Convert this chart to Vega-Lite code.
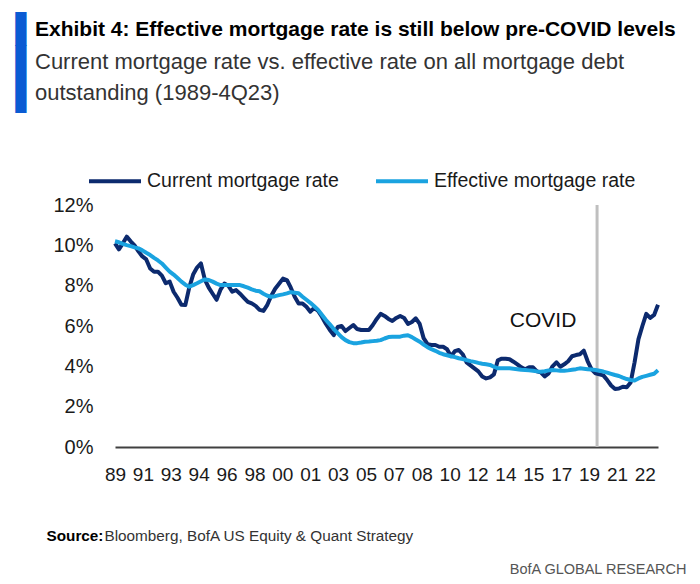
{
  "$schema": "https://vega.github.io/schema/vega-lite/v6.json",
  "width": 543,
  "height": 242,
  "autosize": {"type": "none"},
  "padding": {"left": 115, "top": 205, "right": 42, "bottom": 137},
  "background": "white",
  "title": {
    "text": "Exhibit 4: Effective mortgage rate is still below pre-COVID levels",
    "subtitle": ["Current mortgage rate vs. effective rate on all mortgage debt", "outstanding (1989-4Q23)"],
    "anchor": "start",
    "frame": "group",
    "orient": "top",
    "dx": -80,
    "dy": 88.5,
    "offset": 0,
    "font": "Liberation Sans",
    "fontSize": 21,
    "fontWeight": "bold",
    "color": "#000000",
    "subtitleFont": "Liberation Sans",
    "subtitleFontSize": 22,
    "subtitleColor": "#333333",
    "subtitleLineHeight": 31,
    "subtitlePadding": 12
  },
  "config": {
    "view": {"stroke": null},
    "axis": {"grid": false, "ticks": false, "tickSize": 0}
  },
  "datasets": {
    "rates": [
      {"t":1989.00,"Current":10.1,"Effective":10.2},
      {"t":1989.25,"Current":9.8,"Effective":10.15},
      {"t":1989.50,"Current":10.1,"Effective":10.07},
      {"t":1989.75,"Current":10.43,"Effective":10.01},
      {"t":1990.00,"Current":10.2,"Effective":9.96},
      {"t":1990.25,"Current":10.0,"Effective":9.9},
      {"t":1990.50,"Current":9.7,"Effective":9.85},
      {"t":1990.75,"Current":9.45,"Effective":9.75},
      {"t":1991.00,"Current":9.3,"Effective":9.63},
      {"t":1991.25,"Current":8.85,"Effective":9.52},
      {"t":1991.50,"Current":8.69,"Effective":9.38},
      {"t":1991.75,"Current":8.69,"Effective":9.25},
      {"t":1992.00,"Current":8.5,"Effective":9.1},
      {"t":1992.25,"Current":8.12,"Effective":8.9},
      {"t":1992.50,"Current":8.2,"Effective":8.7},
      {"t":1992.75,"Current":7.7,"Effective":8.55},
      {"t":1993.00,"Current":7.4,"Effective":8.38},
      {"t":1993.25,"Current":7.05,"Effective":8.2},
      {"t":1993.50,"Current":7.04,"Effective":8.05},
      {"t":1993.75,"Current":7.9,"Effective":7.95},
      {"t":1994.00,"Current":8.55,"Effective":8.03},
      {"t":1994.25,"Current":8.9,"Effective":8.12},
      {"t":1994.50,"Current":9.1,"Effective":8.22},
      {"t":1994.75,"Current":8.3,"Effective":8.31},
      {"t":1995.00,"Current":7.9,"Effective":8.28},
      {"t":1995.25,"Current":7.6,"Effective":8.2},
      {"t":1995.50,"Current":7.3,"Effective":8.1},
      {"t":1995.75,"Current":7.8,"Effective":8.03},
      {"t":1996.00,"Current":8.1,"Effective":8.03},
      {"t":1996.25,"Current":8.0,"Effective":8.03},
      {"t":1996.50,"Current":7.7,"Effective":8.03},
      {"t":1996.75,"Current":7.78,"Effective":8.03},
      {"t":1997.00,"Current":7.6,"Effective":8.03},
      {"t":1997.25,"Current":7.4,"Effective":7.97},
      {"t":1997.50,"Current":7.2,"Effective":7.9},
      {"t":1997.75,"Current":7.12,"Effective":7.82},
      {"t":1998.00,"Current":7.0,"Effective":7.75},
      {"t":1998.25,"Current":6.8,"Effective":7.72},
      {"t":1998.50,"Current":6.75,"Effective":7.6},
      {"t":1998.75,"Current":7.05,"Effective":7.5},
      {"t":1999.00,"Current":7.5,"Effective":7.45},
      {"t":1999.25,"Current":7.85,"Effective":7.48},
      {"t":1999.50,"Current":8.1,"Effective":7.53},
      {"t":1999.75,"Current":8.35,"Effective":7.57},
      {"t":2000.00,"Current":8.28,"Effective":7.62},
      {"t":2000.25,"Current":7.9,"Effective":7.68},
      {"t":2000.50,"Current":7.45,"Effective":7.65},
      {"t":2000.75,"Current":7.12,"Effective":7.62},
      {"t":2001.00,"Current":7.12,"Effective":7.45},
      {"t":2001.25,"Current":6.95,"Effective":7.3},
      {"t":2001.50,"Current":6.71,"Effective":7.15},
      {"t":2001.75,"Current":6.9,"Effective":6.98},
      {"t":2002.00,"Current":6.75,"Effective":6.8},
      {"t":2002.25,"Current":6.45,"Effective":6.55},
      {"t":2002.50,"Current":6.1,"Effective":6.3},
      {"t":2002.75,"Current":5.8,"Effective":6.08},
      {"t":2003.00,"Current":5.55,"Effective":5.85},
      {"t":2003.25,"Current":5.95,"Effective":5.65},
      {"t":2003.50,"Current":6.0,"Effective":5.45},
      {"t":2003.75,"Current":5.75,"Effective":5.3},
      {"t":2004.00,"Current":5.9,"Effective":5.2},
      {"t":2004.25,"Current":6.05,"Effective":5.15},
      {"t":2004.50,"Current":5.85,"Effective":5.15},
      {"t":2004.75,"Current":5.8,"Effective":5.18},
      {"t":2005.00,"Current":5.8,"Effective":5.22},
      {"t":2005.25,"Current":5.8,"Effective":5.23},
      {"t":2005.50,"Current":6.05,"Effective":5.25},
      {"t":2005.75,"Current":6.35,"Effective":5.27},
      {"t":2006.00,"Current":6.6,"Effective":5.3},
      {"t":2006.25,"Current":6.5,"Effective":5.38},
      {"t":2006.50,"Current":6.35,"Effective":5.45},
      {"t":2006.75,"Current":6.25,"Effective":5.47},
      {"t":2007.00,"Current":6.4,"Effective":5.47},
      {"t":2007.25,"Current":6.5,"Effective":5.47},
      {"t":2007.50,"Current":6.4,"Effective":5.52},
      {"t":2007.75,"Current":6.1,"Effective":5.54},
      {"t":2008.00,"Current":6.2,"Effective":5.45},
      {"t":2008.25,"Current":6.38,"Effective":5.33},
      {"t":2008.50,"Current":6.1,"Effective":5.22},
      {"t":2008.75,"Current":5.4,"Effective":5.08},
      {"t":2009.00,"Current":5.1,"Effective":4.95},
      {"t":2009.25,"Current":5.06,"Effective":4.85},
      {"t":2009.50,"Current":5.06,"Effective":4.77},
      {"t":2009.75,"Current":4.97,"Effective":4.67},
      {"t":2010.00,"Current":4.97,"Effective":4.6},
      {"t":2010.25,"Current":4.85,"Effective":4.55},
      {"t":2010.50,"Current":4.5,"Effective":4.5},
      {"t":2010.75,"Current":4.75,"Effective":4.46},
      {"t":2011.00,"Current":4.81,"Effective":4.4},
      {"t":2011.25,"Current":4.6,"Effective":4.36},
      {"t":2011.50,"Current":4.2,"Effective":4.31},
      {"t":2011.75,"Current":4.05,"Effective":4.26},
      {"t":2012.00,"Current":3.9,"Effective":4.22},
      {"t":2012.25,"Current":3.75,"Effective":4.17},
      {"t":2012.50,"Current":3.5,"Effective":4.13},
      {"t":2012.75,"Current":3.4,"Effective":4.1},
      {"t":2013.00,"Current":3.45,"Effective":4.07},
      {"t":2013.25,"Current":3.6,"Effective":3.98},
      {"t":2013.50,"Current":4.3,"Effective":3.9},
      {"t":2013.75,"Current":4.38,"Effective":3.9},
      {"t":2014.00,"Current":4.38,"Effective":3.9},
      {"t":2014.25,"Current":4.35,"Effective":3.9},
      {"t":2014.50,"Current":4.23,"Effective":3.88},
      {"t":2014.75,"Current":4.1,"Effective":3.86},
      {"t":2015.00,"Current":3.95,"Effective":3.83},
      {"t":2015.25,"Current":3.85,"Effective":3.82},
      {"t":2015.50,"Current":3.95,"Effective":3.8},
      {"t":2015.75,"Current":3.95,"Effective":3.78},
      {"t":2016.00,"Current":3.75,"Effective":3.75},
      {"t":2016.25,"Current":3.7,"Effective":3.73},
      {"t":2016.50,"Current":3.5,"Effective":3.76},
      {"t":2016.75,"Current":3.65,"Effective":3.8},
      {"t":2017.00,"Current":4.0,"Effective":3.82},
      {"t":2017.25,"Current":4.2,"Effective":3.8},
      {"t":2017.50,"Current":3.98,"Effective":3.78},
      {"t":2017.75,"Current":4.1,"Effective":3.78},
      {"t":2018.00,"Current":4.25,"Effective":3.8},
      {"t":2018.25,"Current":4.5,"Effective":3.83},
      {"t":2018.50,"Current":4.56,"Effective":3.86},
      {"t":2018.75,"Current":4.6,"Effective":3.9},
      {"t":2019.00,"Current":4.78,"Effective":3.88},
      {"t":2019.25,"Current":4.25,"Effective":3.86},
      {"t":2019.50,"Current":3.85,"Effective":3.84},
      {"t":2019.75,"Current":3.65,"Effective":3.82},
      {"t":2020.00,"Current":3.6,"Effective":3.78},
      {"t":2020.25,"Current":3.55,"Effective":3.74},
      {"t":2020.50,"Current":3.32,"Effective":3.69},
      {"t":2020.75,"Current":3.05,"Effective":3.63},
      {"t":2021.00,"Current":2.88,"Effective":3.57},
      {"t":2021.25,"Current":2.9,"Effective":3.52},
      {"t":2021.50,"Current":2.99,"Effective":3.44},
      {"t":2021.75,"Current":2.96,"Effective":3.37},
      {"t":2022.00,"Current":3.2,"Effective":3.32},
      {"t":2022.25,"Current":4.2,"Effective":3.3},
      {"t":2022.50,"Current":5.35,"Effective":3.4},
      {"t":2022.75,"Current":6.0,"Effective":3.48},
      {"t":2023.00,"Current":6.6,"Effective":3.53},
      {"t":2023.25,"Current":6.4,"Effective":3.58},
      {"t":2023.50,"Current":6.55,"Effective":3.63},
      {"t":2023.75,"Current":7.05,"Effective":3.8}
    ],
    "events": [
      {"t": 2019.85, "event": "COVID"}
    ]
  },
  "layer": [
    {
      "data": {"name": "events"},
      "mark": {"type": "rule", "color": "#bfbfbf", "strokeWidth": 3},
      "encoding": {
        "x": {"field": "t", "type": "quantitative", "scale": {"domain": [1989, 2023.75], "nice": false, "zero": false}, "axis": null}
      }
    },
    {
      "data": {"name": "events"},
      "mark": {"type": "text", "dx": -54, "align": "center", "baseline": "middle", "font": "Liberation Sans", "fontSize": 21, "color": "#111111"},
      "encoding": {
        "x": {"field": "t", "type": "quantitative", "scale": {"domain": [1989, 2023.75], "nice": false, "zero": false}, "axis": null},
        "y": {"datum": 6.25, "type": "quantitative", "scale": {"domain": [0, 12], "nice": false}, "axis": null},
        "text": {"field": "event"}
      }
    },
    {
      "data": {"name": "rates"},
      "transform": [{"fold": ["Current", "Effective"], "as": ["series", "rate"]}],
      "mark": {"type": "line", "strokeWidth": 4, "strokeJoin": "round"},
      "encoding": {
        "x": {
          "field": "t", "type": "quantitative",
          "scale": {"domain": [1989, 2023.75], "nice": false, "zero": false},
          "axis": {
            "orient": "bottom",
            "values": [1989, 1990.7847, 1992.5694, 1994.3541, 1996.1388, 1997.9235, 1999.7082, 2001.4929, 2003.2776, 2005.0623, 2006.847, 2008.6317, 2010.4164, 2012.2011, 2013.9858, 2015.7705, 2017.5552, 2019.3399, 2021.1246, 2022.9093],
            "labelExpr": "['89','91','93','94','96','98','00','01','03','05','07','08','10','12','14','15','17','19','21','22'][round((datum.value-1989)/1.7847)]",
            "labelFlush": false,
            "labelOverlap": false,
            "labelFont": "Liberation Sans",
            "labelFontSize": 19,
            "labelColor": "#1a1a1a",
            "labelPadding": 18,
            "domain": true,
            "domainColor": "#404040",
            "domainWidth": 2,
            "title": "Bloomberg, BofA US Equity & Quant Strategy",
            "titleX": -11,
            "titleY": 93,
            "titleAlign": "left",
            "titleAnchor": "start",
            "titleBaseline": "alphabetic",
            "titleFont": "Liberation Sans",
            "titleFontSize": 15.3,
            "titleFontWeight": "normal",
            "titleColor": "#333333"
          }
        },
        "y": {
          "field": "rate", "type": "quantitative",
          "scale": {"domain": [0, 12], "nice": false},
          "axis": {
            "orient": "left",
            "values": [0, 2, 4, 6, 8, 10, 12],
            "labelExpr": "datum.value + '%'",
            "labelFont": "Liberation Sans",
            "labelFontSize": 20,
            "labelColor": "#1a1a1a",
            "labelPadding": 22,
            "domain": false,
            "title": "Source:",
            "titleAngle": 0,
            "titleX": -69,
            "titleY": 335,
            "titleAlign": "left",
            "titleAnchor": "start",
            "titleBaseline": "alphabetic",
            "titleFont": "Liberation Sans",
            "titleFontSize": 15.3,
            "titleFontWeight": "bold",
            "titleColor": "#000000"
          }
        },
        "color": {
          "field": "series", "type": "nominal",
          "scale": {"domain": ["Current", "Effective"], "range": ["#0c2a6e", "#1aa3e0"]},
          "legend": {
            "orient": "none",
            "direction": "horizontal",
            "legendX": -28,
            "legendY": -52,
            "title": null,
            "padding": 0,
            "symbolType": "stroke",
            "symbolSize": 2704,
            "symbolStrokeWidth": 4,
            "labelOffset": 4,
            "columnPadding": 29,
            "labelFont": "Liberation Sans",
            "labelFontSize": 19.5,
            "labelColor": "#1a1a1a",
            "labelExpr": "datum.label == 'Current' ? 'Current mortgage rate' : 'Effective mortgage rate'",
            "labelLimit": 400
          }
        }
      }
    },
    {
      "data": {"name": "rates"},
      "mark": {"type": "point", "opacity": 0},
      "encoding": {
        "x": {
          "field": "t", "type": "quantitative",
          "scale": {"domain": [1989, 2023.75], "nice": false, "zero": false},
          "axis": {
            "orient": "top", "labels": false, "domain": false,
            "title": ["▌", "▌", "▌"],
            "titleX": -100,
            "titleY": -166.5,
            "titleAlign": "left",
            "titleAnchor": "start",
            "titleBaseline": "alphabetic",
            "titleFont": "DejaVu Sans",
            "titleFontSize": 28.6,
            "titleLineHeight": 33.3,
            "titleFontWeight": "normal",
            "titleColor": "#0a5bd3"
          }
        },
        "y": {
          "field": "Current", "type": "quantitative",
          "scale": {"domain": [0, 12], "nice": false},
          "axis": {
            "orient": "right", "labels": false, "domain": false,
            "title": "BofA GLOBAL RESEARCH",
            "titleAngle": 0,
            "titleX": 28,
            "titleY": 368,
            "titleAlign": "right",
            "titleAnchor": "start",
            "titleBaseline": "alphabetic",
            "titleFont": "Liberation Sans",
            "titleFontSize": 14.5,
            "titleFontWeight": "normal",
            "titleColor": "#555555"
          }
        }
      }
    }
  ],
  "resolve": {"scale": {"x": "independent", "y": "independent"}}
}
